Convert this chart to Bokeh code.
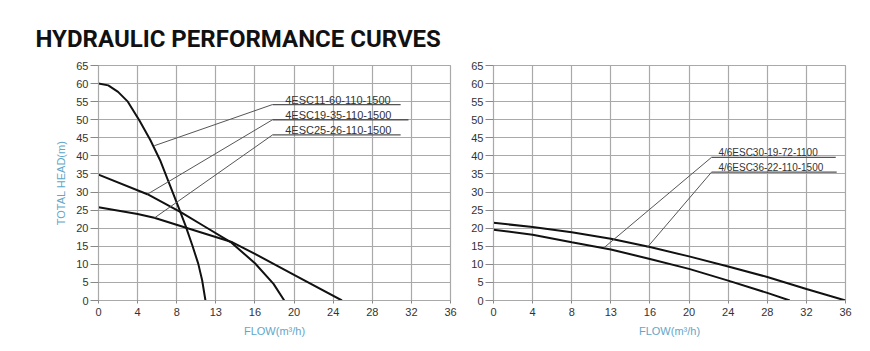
from bokeh.plotting import figure
from bokeh.layouts import row
from bokeh.models import Range1d, FixedTicker
from bokeh.embed import file_html
from bokeh.resources import INLINE
from bokeh.core.properties import value

# ---- axes ----
flow_ticks = [0, 4, 8, 12, 16, 20, 24, 28, 32, 36]
flow_tick_labels = ["0", "4", "8", "13", "16", "20", "24", "28", "32", "36"]
head_ticks = [0, 5, 10, 15, 20, 25, 30, 35, 40, 45, 50, 55, 60, 65]

# ---- left chart curves (flow m3/h, head m) ----
esc11_flow = [0, 1.0, 2.0, 3.0, 4.2, 5.3, 6.3, 7.2, 8.1, 8.9, 9.6, 10.2, 10.6, 10.94]
esc11_head = [60, 59.5, 57.7, 55, 49.7, 44.4, 38.8, 32.6, 26.4, 20.7, 15.2, 10.2, 5.6, 0]
esc19_flow = [0, 5.0, 8.45, 10.9, 13.6, 16.0, 17.9, 19.0]
esc19_head = [34.8, 29.4, 24.4, 20.4, 16.0, 10.3, 4.6, 0]
esc25_flow = [0, 4.0, 5.7, 9.2, 13.7, 16.0, 20.0, 24.9]
esc25_head = [25.8, 23.9, 22.9, 19.9, 16.1, 12.9, 7.1, 0]

left_names = ["4ESC11-60-110-1500", "4ESC19-35-110-1500", "4ESC25-26-110-1500"]
left_line_head = [54.2, 50.0, 45.8]
left_line_x0 = [17.8, 17.8, 17.8]
left_line_x1 = [30.9, 31.7, 30.9]
left_text_x = [19.1, 19.1, 19.1]
left_point_flow = [5.7, 5.0, 5.7]
left_point_head = [42.8, 29.4, 22.8]

# ---- right chart curves ----
esc30_flow = [0, 4, 8, 12, 16, 20, 24, 28, 30.3]
esc30_head = [19.6, 18.2, 16.1, 14.1, 11.5, 8.75, 5.5, 2.1, 0]
esc36_flow = [0, 4, 8, 12, 16, 20, 24, 28, 32, 36]
esc36_head = [21.5, 20.3, 18.9, 17.1, 14.8, 12.2, 9.4, 6.5, 3.2, 0]

right_names = ["4/6ESC30-19-72-1100", "4/6ESC36-22-110-1500"]
right_line_head = [39.6, 35.5]
right_line_x0 = [22.3, 22.3]
right_line_x1 = [35.0, 35.1]
right_text_x = [23.0, 23.0]
right_point_flow = [11.3, 15.7]
right_point_head = [14.6, 14.6]

GRID = "#a9a9a9"
BLUE = "#62a6c9"
FONT = "Liberation Sans"


def make_fig(width, left, right, ylabel):
    p = figure(width=width, height=351, output_backend="svg", toolbar_location=None,
               x_range=Range1d(0, 36), y_range=Range1d(0, 65),
               min_border_left=left, min_border_right=right,
               min_border_top=65, min_border_bottom=51)
    p.outline_line_color = GRID
    p.outline_line_width = 1.2
    p.background_fill_color = "white"
    p.border_fill_color = "white"
    for g in (p.xgrid, p.ygrid):
        g.grid_line_color = GRID
        g.grid_line_width = 1.2
    p.xaxis.ticker = FixedTicker(ticks=flow_ticks)
    p.xaxis.major_label_overrides = dict(zip(flow_ticks, flow_tick_labels))
    p.yaxis.ticker = FixedTicker(ticks=head_ticks)
    for ax in (p.xaxis, p.yaxis):
        ax.axis_line_color = GRID
        ax.major_tick_line_color = "#888888"
        ax.minor_tick_line_color = None
        ax.major_tick_in = 0
        ax.major_label_text_font = FONT
        ax.major_label_text_font_size = "11px"
        ax.major_label_text_color = "#333333"
        ax.axis_label_text_font = FONT
        ax.axis_label_text_font_style = "normal"
        ax.axis_label_text_font_size = "11px"
        ax.axis_label_text_color = BLUE
    p.yaxis.major_tick_out = 8
    p.yaxis.major_label_standoff = 2
    p.xaxis.major_tick_out = 3
    p.xaxis.major_label_standoff = 4
    p.xaxis.axis_label = "FLOW(m³/h)"
    p.xaxis.axis_label_standoff = 6
    if ylabel:
        p.yaxis.axis_label = ylabel
        p.yaxis.axis_label_standoff = 6
    return p


p1 = make_fig(460, 98, 10, "TOTAL HEAD(m)")
p1.title.text = "HYDRAULIC PERFORMANCE CURVES"
p1.title.text_font = "Roboto"
p1.title.text_font_style = "bold"
p1.title.text_font_size = "24px"
p1.title.text_color = "#111111"
p1.title.align = "left"
p1.title.offset = -63
p1.title.standoff = 26

for fx, fy in ((esc11_flow, esc11_head), (esc19_flow, esc19_head), (esc25_flow, esc25_head)):
    p1.line(fx, fy, line_color="#111111", line_width=2)
for i in range(3):
    p1.line([left_point_flow[i], left_line_x0[i]], [left_point_head[i], left_line_head[i]],
            line_color="#555555", line_width=1)
    p1.line([left_line_x0[i], left_line_x1[i]], [left_line_head[i], left_line_head[i]],
            line_color="#555555", line_width=1.3)
p1.text(x=left_text_x, y=[h + 1.3 for h in left_line_head], text=left_names,
        text_font=value(FONT), text_font_size="11px", text_color="#333333",
        text_baseline="alphabetic", text_align="left")

p2 = make_fig(410, 33, 25, None)
for fx, fy in ((esc30_flow, esc30_head), (esc36_flow, esc36_head)):
    p2.line(fx, fy, line_color="#111111", line_width=2)
for i in range(2):
    p2.line([right_point_flow[i], right_line_x0[i]], [right_point_head[i], right_line_head[i]],
            line_color="#555555", line_width=1)
    p2.line([right_line_x0[i], right_line_x1[i]], [right_line_head[i], right_line_head[i]],
            line_color="#555555", line_width=1.3)
p2.text(x=right_text_x, y=[h + 1.2 for h in right_line_head], text=right_names,
        text_font=value(FONT), text_font_size="10px", text_color="#333333",
        text_baseline="alphabetic", text_align="left")

layout = row(p1, p2)
open("out.html", "w").write(file_html(layout, INLINE))
